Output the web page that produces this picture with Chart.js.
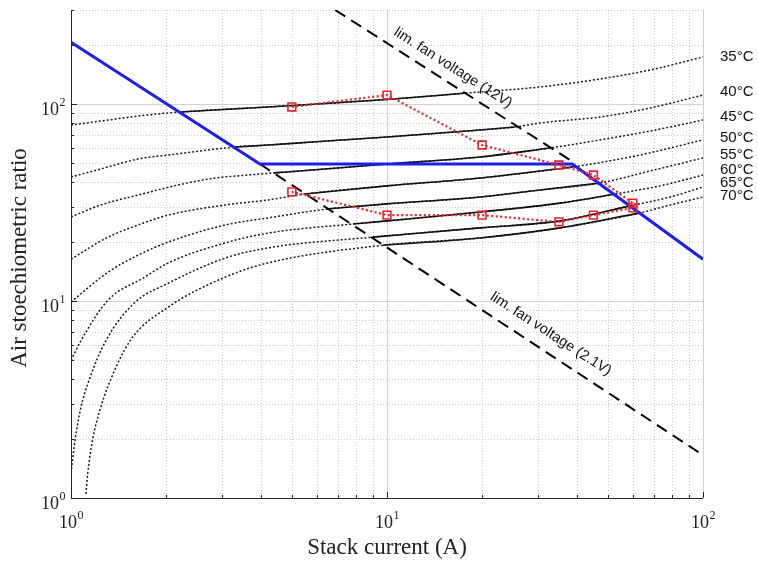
<!DOCTYPE html>
<html>
<head>
<meta charset="utf-8">
<script src="https://cdn.jsdelivr.net/npm/chart.js@4.4.1/dist/chart.umd.min.js"></script>
<style>
  body { margin: 0; background: #fff; }
  #wrap { width: 758px; height: 565px; }
</style>
</head>
<body>
<div id="wrap"><canvas id="fanChart" width="758" height="565"></canvas></div>
<script>
// Temperature curves: stack current (A) -> air stoechiometric ratio
const temps = ["35°C", "40°C", "45°C", "50°C", "55°C", "60°C", "65°C", "70°C"];

const i35 = [1, 1.31, 1.63, 2.23, 4.2, 10, 17.9, 30.5, 47.2, 68, 100];
const r35 = [78.2, 82.9, 86.9, 91.1, 96.6, 105.4, 113.7, 122, 133.9, 148.8, 173.2];
const i40 = [1, 1.31, 1.63, 2.03, 3.07, 3.3, 4.2, 5.79, 10, 19.7, 25.4, 30.5, 47.2, 68, 100];
const r40 = [42.6, 47.9, 52.6, 55.1, 59.8, 60.5, 61.9, 64.1, 68.0, 73.8, 76.4, 80.1, 85.9, 95.4, 111.1];
const i45 = [1, 1.24, 1.63, 2.18, 2.86, 3.45, 4.39, 5.79, 10, 19.7, 32.8, 47.2, 68, 100];
const r45 = [26.7, 30.7, 34.5, 38.8, 42.1, 43.3, 44.7, 46.2, 49.6, 53.8, 59.8, 65.7, 72.9, 82.9];
const i50 = [1, 1.31, 1.63, 2.03, 3.07, 4.2, 5.5, 10, 19.7, 39.6, 63.2, 100];
const r50 = [16.3, 21.1, 24.3, 27.3, 30.7, 32.6, 34.9, 38.4, 42.1, 48.2, 55.1, 65.7];
const i55 = [1, 1.31, 1.63, 2.03, 3.07, 4.2, 6.46, 10, 19.7, 30.5, 47.2, 68, 100];
const r55 = [9.9, 14.0, 17.1, 19.9, 24.3, 26.4, 29.3, 31.1, 33.7, 36.6, 39.7, 45.7, 53.2];
const i60 = [1, 1.076, 1.31, 1.71, 2.03, 3.07, 4.2, 7.8, 10, 19.7, 35.3, 52.7, 73.1, 100];
const r60 = [5.0, 6.3, 10.1, 13.2, 15.6, 19.7, 22.1, 24.6, 25.5, 28.3, 31.4, 34.9, 38.4, 43.6];
const i65 = [1, 1.03, 1.076, 1.13, 1.29, 1.59, 2.03, 3.07, 4.2, 9.03, 19.7, 35.3, 58.7, 78.6, 100];
const r65 = [1.34, 1.97, 2.9, 3.8, 6.3, 9.8, 12.3, 16.5, 18.6, 21.1, 23.5, 25.5, 30.4, 33.7, 37.9];
const i70 = [1.115, 1.13, 1.17, 1.235, 1.31, 1.54, 2.03, 3.07, 4.2, 9.71, 19.7, 35.3, 63.2, 78.6, 100];
const r70 = [1.05, 1.34, 1.97, 2.8, 3.7, 6.3, 9.3, 13.2, 15.6, 19.2, 20.9, 23.5, 28.0, 30.7, 33.7];

// solid (feasible) part of each temperature curve, current range
const solidFrom = [2.23, 3.3, 4.39, 5.5, 6.46, 7.8, 9.03, 9.71];
const solidTo = [17.9, 25.4, 32.8, 39.6, 47.2, 52.7, 58.7, 63.2];

// blue limit line
const blueI = [1, 3.96, 38.6, 100];
const blueR = [206, 49.6, 49.6, 16.3];

// fan voltage limits
const fan12I = [6.85, 37.9];
const fan12R = [300, 52];
const fan21I = [3.96, 100];
const fan21R = [49.6, 1.65];

// red operating points
const redI = [5, 10, 20, 35, 45, 60, 60, 45, 35, 20, 10, 5];
const redR = [96.6, 111, 61.9, 49, 43.6, 31.4, 29.7, 27.3, 25.2, 27.3, 27.3, 35.8];

// where the temperature labels sit on the right
const tempLabelR = [173, 115, 86, 67.2, 55.1, 46.2, 39.7, 34.1];

// grid / ticks
const majorTicks = [1, 10, 100];
const xMinor = [2, 3, 4, 5, 6, 7, 8, 9, 20, 30, 40, 50, 60, 70, 80, 90];
const yMinor = [2, 3, 4, 5, 6, 7, 8, 9, 20, 30, 40, 50, 60, 70, 80, 90, 200, 300];

const curves = [[i35, r35], [i40, r40], [i45, r45], [i50, r50], [i55, r55], [i60, r60], [i65, r65], [i70, r70]];

function pts(xs, ys) {
  return xs.map((v, k) => ({ x: v, y: ys[k] }));
}

const RED = "#e8222a";
const BLUE = "#1e1ee6";
const SERIF = "'Liberation Serif', 'Times New Roman', serif";
const SANS = "'Liberation Sans', Arial, sans-serif";

const datasets = [];
datasets.push({
  data: pts(redI, redR),
  showLine: true,
  borderColor: RED,
  borderWidth: 2.2,
  borderDash: [2, 2.5],
  pointStyle: "rect",
  pointRadius: 5.5,
  pointBorderWidth: 1.6,
  pointBorderColor: RED,
  pointBackgroundColor: "rgba(255,255,255,0)",
  order: 0,
});
datasets.push({
  data: pts(blueI, blueR),
  showLine: true,
  borderColor: BLUE,
  borderWidth: 3,
  pointRadius: 0,
  order: 1,
});
[[fan12I, fan12R], [fan21I, fan21R]].forEach(([xs, ys]) => {
  datasets.push({
    data: pts(xs, ys),
    showLine: true,
    borderColor: "#000",
    borderWidth: 2,
    borderDash: [12, 7],
    pointRadius: 0,
    order: 2,
  });
});
curves.forEach(([xs, ys], k) => {
  const all = pts(xs, ys);
  datasets.push({
    data: all.filter((p) => p.x >= solidFrom[k] && p.x <= solidTo[k]),
    showLine: true,
    borderColor: "#111",
    borderWidth: 1.6,
    pointRadius: 0,
    cubicInterpolationMode: "monotone",
    order: 3,
  });
  datasets.push({
    data: all,
    showLine: true,
    borderColor: "#1a1a1a",
    borderWidth: 1.5,
    borderDash: [2, 2],
    pointRadius: 0,
    cubicInterpolationMode: "monotone",
    order: 4,
  });
});

function drawPow(ctx, px, baseY, exp, align) {
  ctx.font = "18px " + SERIF;
  const w1 = ctx.measureText("10").width;
  ctx.font = "12px " + SERIF;
  const w2 = ctx.measureText(String(exp)).width;
  const x0 = align === "right" ? px - w1 - w2 : px - (w1 + w2) / 2;
  ctx.textAlign = "left";
  ctx.textBaseline = "alphabetic";
  ctx.font = "18px " + SERIF;
  ctx.fillText("10", x0, baseY);
  ctx.font = "12px " + SERIF;
  ctx.fillText(String(exp), x0 + w1 + 0.5, baseY - 9);
}

const logAxesPlugin = {
  id: "logAxes",
  beforeDatasetsDraw(chart) {
    const { ctx, chartArea: a, scales: { x, y } } = chart;
    ctx.save();
    ctx.lineWidth = 1;
    ctx.strokeStyle = "#c8c8c8";
    ctx.setLineDash([1, 2]);
    ctx.beginPath();
    xMinor.forEach((v) => {
      const p = Math.round(x.getPixelForValue(v)) + 0.5;
      ctx.moveTo(p, a.top); ctx.lineTo(p, a.bottom);
    });
    yMinor.forEach((v) => {
      const p = Math.round(y.getPixelForValue(v)) + 0.5;
      ctx.moveTo(a.left, p); ctx.lineTo(a.right, p);
    });
    ctx.stroke();
    ctx.setLineDash([]);
    ctx.strokeStyle = "#d2d2d2";
    ctx.beginPath();
    majorTicks.slice(1).forEach((v) => {
      const px = Math.round(x.getPixelForValue(v)) + 0.5;
      ctx.moveTo(px, a.top); ctx.lineTo(px, a.bottom);
      const py = Math.round(y.getPixelForValue(v)) + 0.5;
      ctx.moveTo(a.left, py); ctx.lineTo(a.right, py);
    });
    ctx.stroke();
    ctx.restore();
  },
  afterDraw(chart) {
    const { ctx, chartArea: a, scales: { x, y } } = chart;
    ctx.save();
    // axes
    ctx.strokeStyle = "#262626";
    ctx.lineWidth = 1;
    ctx.beginPath();
    ctx.moveTo(a.left + 0.5, a.top);
    ctx.lineTo(a.left + 0.5, a.bottom + 0.5);
    ctx.lineTo(a.right, a.bottom + 0.5);
    ctx.stroke();
    // tick marks
    ctx.beginPath();
    xMinor.forEach((v) => {
      const p = Math.round(x.getPixelForValue(v)) + 0.5;
      ctx.moveTo(p, a.bottom); ctx.lineTo(p, a.bottom - 3);
    });
    yMinor.forEach((v) => {
      const p = Math.round(y.getPixelForValue(v)) + 0.5;
      ctx.moveTo(a.left, p); ctx.lineTo(a.left + 3, p);
    });
    majorTicks.forEach((v) => {
      const px = Math.round(x.getPixelForValue(v)) + 0.5;
      ctx.moveTo(px, a.bottom); ctx.lineTo(px, a.bottom - 6);
      const py = Math.round(y.getPixelForValue(v)) + 0.5;
      ctx.moveTo(a.left, py); ctx.lineTo(a.left + 6, py);
    });
    ctx.stroke();

    // tick labels
    ctx.fillStyle = "#222";
    majorTicks.forEach((v) => {
      const e = Math.round(Math.log10(v));
      drawPow(ctx, x.getPixelForValue(v), a.bottom + 30, e, "center");
      drawPow(ctx, a.left - 6, y.getPixelForValue(v) + 11, e, "right");
    });

    // axis titles
    ctx.font = "23px " + SERIF;
    ctx.textAlign = "center";
    ctx.textBaseline = "middle";
    ctx.fillText("Stack current (A)", (a.left + a.right) / 2, a.bottom + 50);
    ctx.save();
    ctx.translate(20, (a.top + a.bottom) / 2 + 4);
    ctx.rotate(-Math.PI / 2);
    ctx.fillText("Air stoechiometric ratio", 0, 0);
    ctx.restore();

    // temperature labels
    ctx.font = "15px " + SANS;
    ctx.textAlign = "left";
    ctx.fillStyle = "#111";
    temps.forEach((t, k) => {
      ctx.fillText(t, a.right + 17, y.getPixelForValue(tempLabelR[k]));
    });

    // fan voltage annotations
    ctx.font = "14.5px " + SANS;
    ctx.textAlign = "center";
    const notes = [["lim. fan voltage (12V)", 16.18, 152.5, 32.5], ["lim. fan voltage (2.1V)", 33.0, 6.8, 33]];
    notes.forEach(([txt, xv, yv, ang]) => {
      ctx.save();
      ctx.translate(x.getPixelForValue(xv), y.getPixelForValue(yv));
      ctx.rotate((ang * Math.PI) / 180);
      ctx.fillText(txt, 0, 0);
      ctx.restore();
    });
    ctx.restore();
  },
};

const ctx1 = document.getElementById("fanChart").getContext("2d");
const fanChart = new Chart(ctx1, {
  type: "scatter",
  data: { datasets: datasets },
  options: {
    responsive: false,
    animation: false,
    layout: { padding: { left: 71, right: 55, top: 10, bottom: 67 } },
    plugins: { legend: { display: false }, tooltip: { enabled: false } },
    scales: {
      x: { type: "logarithmic", min: 1, max: 100, display: false },
      y: { type: "logarithmic", min: 1, max: 300, display: false },
    },
  },
  plugins: [logAxesPlugin],
});
</script>
</body>
</html>
